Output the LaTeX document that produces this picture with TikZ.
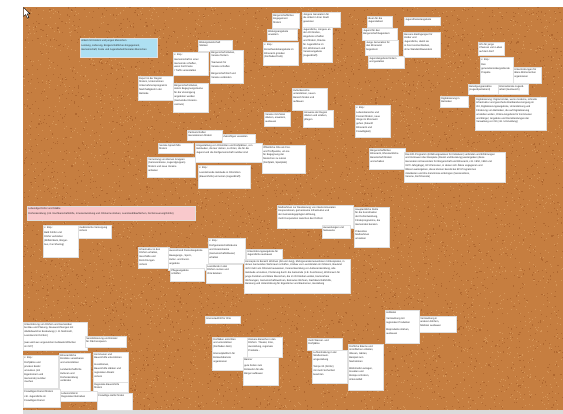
\documentclass[tikz,border=0pt]{standalone}
\usepackage{fontspec}
\newfontfamily\nf{Liberation Sans}
\definecolor{corkbase}{RGB}{198,126,64}
\definecolor{corkdark}{RGB}{176,104,48}
\definecolor{corklight}{RGB}{214,150,88}
\definecolor{noteblue}{RGB}{174,224,242}
\definecolor{notepink}{RGB}{249,201,204}
\newcommand\notefont{\nf\fontsize{2.5}{3.8}\selectfont\raggedright}
\tikzset{
  notebox/.style={fill=white, draw=black!12, line width=0.2pt, inner sep=1.2pt, anchor=north west, text=black!85},
  noteshadow/.style={fill=black, opacity=0.28},
}
% \ntc{name}{x}{y}{w}{h}{text}{fill}
\newcommand\ntc[7]{%
  \fill[noteshadow] (#2+0.8,#3+0.8) rectangle ++(#4,#5);
  \node[notebox, fill=#7] (#1) at (#2,#3) {\parbox[t][\dimexpr#5pt-2.4pt\relax][t]{\dimexpr#4pt-2.4pt\relax}{\notefont #6}};%
}
\newcommand\nt[6]{\ntc{#1}{#2}{#3}{#4}{#5}{#6}{white}}
\begin{document}
\begin{tikzpicture}[x=1pt,y=-1pt]
\useasboundingbox (0,0) rectangle (563,414);
\fill[white] (0,0) rectangle (563,414);
% cork board
\fill[corkbase] (23,7) rectangle (563,410.5);
\pgfmathsetseed{42}
\foreach \i in {1,...,4500}{
  \pgfmathsetmacro\rx{23+rnd*539}
  \pgfmathsetmacro\ry{7+rnd*402.5}
  \fill[corkdark] (\rx,\ry) rectangle ++(1.1,1.1);
}
\foreach \i in {1,...,4500}{
  \pgfmathsetmacro\rx{23+rnd*539}
  \pgfmathsetmacro\ry{7+rnd*402.5}
  \fill[corklight] (\rx,\ry) rectangle ++(1.0,1.0);
}
\fill[black!14] (23,410.5) rectangle (563,414);
% cursor
\draw[fill=white, line width=0.4pt, line join=round] (23.5,7.5) -- (23.5,16.5) -- (25.7,14.5) -- (27.4,18.2) -- (28.9,17.5) -- (27.2,13.9) -- (30.2,13.9) -- cycle;

% headings
\ntc{n1}{80}{38}{77}{19}{Arbeit mit Kindern und jungen Menschen\\[1.5pt] Leistung, Lieferung, Bürgerschaftliches Engagement,\\ Gemeinschaft, Feste und Jugendarbeit/Soziales Menschen}{noteblue}
\ntc{n2}{27}{206}{168}{14}{Lebendige Dörfer und Städte\\[1.5pt] Dorfentwicklung (z.B. Nachbarschaftshilfe, Innenentwicklung und Ortskerne stärken, Leerstand/Bauflächen, Dorferneuerung/Dörfer)}{notepink}

% upper area
\nt{n3}{138}{76}{35}{24}{Export in der Region\\ fördern, Unternehmen\\ Unternehmensprogramm\\ Nachhaltigkeit in der\\ Betriebe}
\nt{n4}{198}{40}{34}{11}{Bildungslandschaft\\ Stärken}
\nt{n5}{173}{52}{35}{23}{z. Bsp.:\\[1.5pt] Gemeinschaft in einer\\ Gemeinde schaffen,\\ wenn Dorf-Feste\\ / Treffs veranstalten}
\nt{n6}{210}{50}{33}{33}{Bürgerschaft stärken,\\ Vereine fördern\\[3pt] Teamwork für\\ Vereine schaffen\\[3pt] Bürgerschaft Dorf und\\ Vereine verbinden}
\nt{n7}{173}{83}{35}{29}{Bürgerschaft stärken,\\ indem Begegnungsräume\\ für die Vereinigung\\ angeboten werden\\ (Gemeinde-/Vereins-\\ zentrum)}
\nt{n8}{272}{13}{27}{15}{Bürgerschaftliches\\ Engagement\\ fördern}
\nt{n9}{267}{29}{30}{11}{Bildungsangebote\\ erweitern}
\nt{n10}{263}{42}{35}{23}{z. Bsp.:\\[1.5pt] Einzelhandelsangebote im\\ Ehrenamt gründen\\ (Dorfladen/Café)}
\nt{n11}{302}{12}{38}{15}{Jüngere Generation für\\ die Arbeit in ihrer Stadt\\ gewinnen}
\nt{n12}{302}{27}{30}{35}{Jugendliche, Jüngere an\\ den Ort binden,\\ Angebote schaffen\\ und fördern, Räume\\ für Jugendliche im\\ Ort, Wohnraum und\\ Vereinsangebote\\ (Jugendtreff)}
\nt{n13}{367}{16}{25}{11}{Ideen für die\\ Jugendarbeit}
\nt{n14}{404}{17}{36}{8}{Jugendfreizeitangebote}
\nt{n18}{403}{32}{37}{25}{Bessere Bedingungen für\\ Kinder und\\ Jugendliche, damit sie\\ in ihrer Heimat bleiben,\\ ohne Wandel/Abwandern}
\nt{n15}{362}{28}{35}{12}{Jugend für den\\ Bürgerschaft begeistern}
\nt{n16}{365}{40}{33}{15}{Junge Generation für\\ das Ehrenamt\\ begeistern}
\nt{n17}{368}{56}{36}{12}{Jugendangebote fördern\\ und gestalten}
\nt{n19}{292}{88}{35}{22}{Kulturbereiche\\ unterstützen, neuen\\ Bereich finden und\\ aufbauen}
\nt{n21}{264}{112}{26}{14}{Vereine mit Zielen\\ stärken, erweitern,\\ ausbauen}
\nt{n20}{303}{110}{30}{17}{Hinweise der Region\\ stärken und erleben,\\ pflegen}
\nt{n22}{355}{105}{35}{32}{z. Bsp.:\\[1.5pt] Lebensbereiche und\\ Freizeit fördern, neue\\ Wege im Ehrenamt\\ gehen (Zukunft\\ Ehrenamt und\\ Freiwilligkeit)}
\nt{n23}{478}{42}{26}{13}{Info für junge\\ Chancen vom Leben\\ auf dem Dorf}
\nt{n24}{480}{57}{33}{26}{z. Bsp.:\\[2pt] Den\\ generationsübergreifende\\ Projekte}
\nt{n25}{513}{67}{28}{16}{Unterstützungen für\\ ältere Mitmenschen\\ organisieren}
\nt{n26}{468}{84}{30}{10}{Beteiligungsansätze\\ (Jugendparlament)}
\nt{n27}{498}{84}{30}{10}{Internationale Jugend-\\ arbeit (Austausch)}
\nt{n28}{440}{96}{28}{11}{Digitalisierung in\\ Betrieben}
\nt{n29}{475}{97}{71}{33}{Digitalisierung: Digital ist das, wenn moderne, schnelle\\ Infrastruktur und gesicherte Breitbandversorgung im\\ Ort, Digitalisierungsangebote, Unterstützung und\\ Förderung von Betrieben, die auf Digitalisierung\\ umstellen wollen, Online-Angebote für Kommunen\\ und Bürger; Angebote und Dienstleistungen der\\ Verwaltung vor Ort (z.B. Ummeldung)}

% middle area
\nt{n35}{187}{130}{35}{10}{Partnerschaften\\ Generationen fördern}
\nt{n36}{222}{134}{33}{9}{Zukünftiges verwalten}
\nt{n30}{158}{143}{35}{10}{Soziale Sprachhilfe\\ fördern}
\nt{n31}{147}{157}{48}{20}{Vernetzung von kleinen Gruppen\\ (Seniorenkreise, Jugendgruppen)\\ fördern und neue Vereine\\ anbieten}
\nt{n32}{195}{143}{67}{19}{Umgestaltung von Ortsmitten und Dorfplätzen, von\\ Gebäuden, die leer stehen, zu Orten, die für die\\ Jugend und die Dorfgemeinschaft nutzbar sind}
\nt{n33}{198}{165}{52}{23}{z. Bsp.:\\[2pt] Leerstehende Gebäude in Ortsmitten\\ (Bauernhöfe) umnutzen (Jugendtreff)}
\nt{n34}{262}{145}{43}{28}{Öffentliche Orte als Frei-\\ und Treffpunkte, um sie\\ für Begegnung der\\ Menschen zu nutzen\\ (Dorfplatz, Spielplatz)}
\nt{n37}{369}{148}{36}{21}{Bürgerschaftliches\\ Ehrenamt, Ehrenamtliche\\ Bereitschaft fördern\\ und erhalten}
\nt{n38}{404}{152}{101}{30}{Das EFI-Programm (Erfahrungswissen für Initiativen) verbinden und Erfahrungen\\ und Vertrauen über Beispiele (Dienst und Beratung) weitergeben (diese\\ Generation ist besonders für Bürgerschaft und Ehrenamt, z.B. 1950, 1960 und\\ 1970 Jahrgänge), EFI-Personen, in denen sich Ältere engagieren und\\ Wissen weitergeben, diese können bereits bei EFI-Programmen\\ mitarbeiten und ihre Kenntnisse einbringen (Seniorenbüro,\\ Vereine, Dorf-Dienste)}

% lower middle
\nt{n39}{277}{205}{76}{23}{Maßnahmen zur Realisierung von interkommunalen\\ Kooperationen, gemeinsame Infrastruktur und\\ der Gemeindegeprägten Wirkung,\\ mehr Kooperation zwischen den Dörfern}
\nt{n40}{322}{225}{28}{13}{Ausweitungen und\\ Netzwerke}
\nt{n41}{354}{207}{35}{40}{Hauptamtliche Stelle\\ für die Koordination\\ der Dorfentwicklung,\\ Förderprogramme, die\\ Gemeinden beraten\\[3pt] Präventive\\ Maßnahmen\\ umsetzen}
\nt{n49}{43}{225}{35}{32}{z. Bsp.:\\[2pt] Bald Dörfer und\\ Dörfer verbinden\\ (Mitfahrbank, Bürger-\\ bus, Car-Sharing)}
\nt{n50}{78}{225}{33}{13}{medizinische Versorgung\\ sichern}
\nt{n44}{208}{238}{37}{25}{z. Bsp.:\\[2pt] Dorfgemeinschaftsräume\\ und Vereinsheime\\ (Gemeinschaftshäuser)\\ erhalten}
\nt{n46}{138}{247}{31}{21}{Infrastruktur in den\\ Dörfern erhalten,\\ Geschäfte und\\ Einrichtungen\\ sichern}
\nt{n45}{168}{248}{40}{22}{Ausreichend Freizeitangebote\\[2pt] Bewegungs-, Sport-,\\ Kultur- und Kunst-\\ angebote}
\nt{n43}{246}{249}{36}{10}{Unterstützungsangebote für\\ Jugendliche ausbauen}
\nt{n42}{244}{259}{106}{34}{Konzepte im Bereich Wohnen (Alt und Jung), Mehrgenerationenwohnen mit Beispielen, in\\ denen Gemeinden Wohnraum schaffen, Umbau von Leerständen im Ortskern, Bauland\\ nicht mehr am Ortsrand ausweisen, Innenentwicklung vor Außenentwicklung, alte\\ Gebäude umnutzen, Förderung durch die Gemeinde (z.B. Zuschüsse), Wohnraum für\\ junge Familien und ältere Menschen, die im Ort bleiben wollen, barrierefreie\\ Wohnungen, Gemeinschaftswohnen, Betreutes Wohnen, Nachbarschaftshilfe,\\ Beratung und Unterstützung für Eigentümer und Bauherren, Gestaltung}
\nt{n47}{170}{268}{34}{13}{Pflegeangebote\\ schaffen}
\nt{n48}{206}{264}{36}{19}{Leerstände in den\\ Dörfern nutzen und\\ Orte beleben}

% bottom area
\nt{n51}{205}{316}{35}{7}{Internetauftritt für Orte}
\nt{n60}{23}{322}{64}{28}{Unterstützung von Dörfern und Gemeinden\\ bei Bau und Planung, Neuausrichtungen mit\\ städtebaulicher Bedeutung (z. B. Mehrzahl,\\ Leerstand in Dörfern)\\[3pt] (was wird aus ungenutzten Gebäuden/Flächen\\ im Ort?)}
\nt{n61}{85}{336}{41}{11}{Sensibilisierung und Einsatz\\ für Flächensparen}
\nt{n64}{93}{352}{35}{30}{Kommunen und\\ Bauernhöfe unterstützen\\[3pt] Investitionen,\\ Bauernhöfe stärken und\\ regionalen Absatz\\ sichern}
\nt{n63}{59}{353}{31}{39}{Ehrenamtliche\\ Einsätze vereinbaren\\ und unterstützen\\[3pt] Landwirtschaftliche\\ Kulturen und\\ Dorfentwicklung\\ verbinden}
\nt{n62}{23}{355}{35}{33}{z. Bsp.:\\[2pt] Dorfplätze und\\ privaten Besitz\\ umnutzen (mit\\ Eigentümern und\\ Gemeinde) nutzbar\\ machen}
\nt{n65}{93}{382}{35}{10}{Regionale Bauernhöfe\\ fördern}
\nt{n66}{23}{389}{37}{18}{Freiwilligen Dienst fördern\\[2pt] z.B. Jugendliche im\\ Freiwilligen Dienst}
\nt{n67}{60}{391}{37}{10}{Lebensmittel in\\ Regionalen Betrieben}
\nt{n68}{97}{393}{35}{17}{Freiwillige Helfer finden}
\nt{n52}{212}{337}{35}{33}{Dorfläden einrichten\\ und unterstützen\\ (Dorfladen-Netz)\\[3pt] Internetplattform für\\ Einkaufsdienste\\ organisieren}
\nt{n53}{247}{337}{35}{20}{Kleinere Bereiche in den\\ Dörfern: Theater, Kino,\\ Ausstellung, regionale\\ Produkte...}
\nt{n54}{243}{357}{35}{28}{Banner\\[3pt] gute Zeiten zum\\ Einkaufen für alle\\ Bürger aufbauen}
\nt{n55}{307}{338}{35}{12}{mehr Wasser- und\\ Dorfplätze}
\nt{n56}{312}{350}{35}{33}{Luftreinhaltung in der\\ Straßenraum-\\ umgestaltung\\[3pt] Tempo 30 (Dörfer)\\ mit mehr Sicherheit\\ beachten}
\nt{n57}{348}{344}{35}{46}{Dorfliche Bäume und\\ Grünflächen erhalten,\\ Wiesen, Gärten,\\ Beispiel zum\\ Nachahmen\\[3pt] Blühstreifen anlegen,\\ Insekten und\\ Biotope schützen,\\ Artenvielfalt}
\nt{n58}{385}{310}{34}{33}{Hofläden\\[3pt] Vermarktung mit\\ regionalen Produkten\\[3pt] Bioprodukte stärken,\\ ausbauen}
\nt{n59}{419}{316}{37}{16}{Vermarktung in\\ anderen Dörfern,\\ Märkten ausbauen}
\end{tikzpicture}
\end{document}
